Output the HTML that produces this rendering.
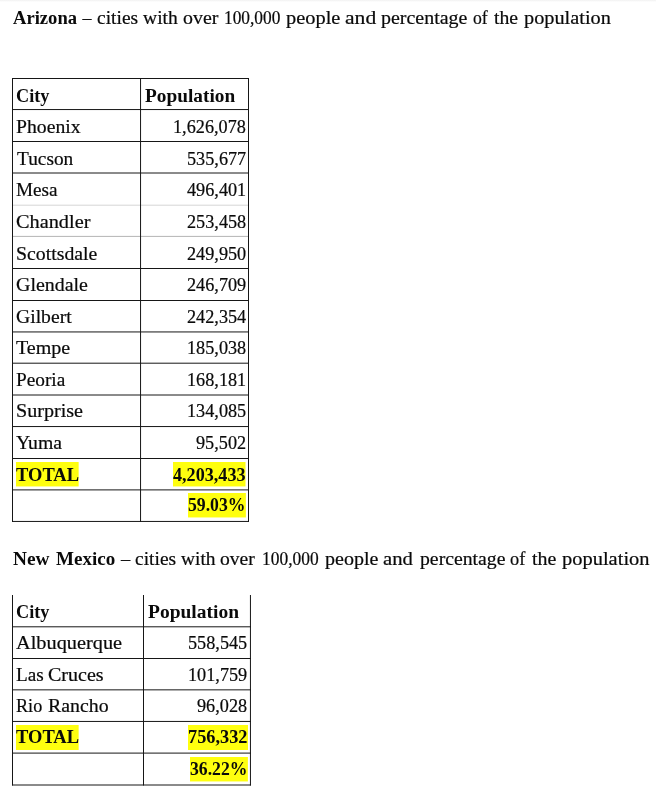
<!DOCTYPE html>
<html lang="en">
<head>
<meta charset="utf-8">
<title>Cities with over 100,000 people</title>
<style>
  html, body { margin: 0; padding: 0; background: #fff; }
  body {
    width: 656px; height: 791px; position: relative; overflow: hidden;
    font-family: "Liberation Serif", serif;
    font-size: 18px; color: #0a0a0a;
  }
  .topshade {
    position: absolute; left: 0; top: 0; width: 656px; height: 2px;
    background: linear-gradient(#f1f1f1, #fff);
  }
  svg.grid { position: absolute; left: 0; top: 0; }
  svg.grid line { stroke-width: 1; }
  h2 {
    position: absolute; margin: 0; left: 0; width: 656px; white-space: nowrap;
    font-size: 18px; font-weight: normal; line-height: 24px; height: 24px;
  }
  h2 .w { position: absolute; top: 0; transform-origin: 0 18px; -webkit-text-stroke: 0.2px #0a0a0a; }
  h2 b { font-weight: bold; }
  #h1 { top: 6px; }
  #h2 { top: 547px; }
  table {
    position: absolute; border-collapse: collapse; border-spacing: 0; table-layout: fixed;
    margin: 0; padding: 0; border: 0;
  }
  td, th {
    border: 0; padding: 0; margin: 0;
    font-size: 18px; line-height: 24px; font-weight: normal;
    vertical-align: top; white-space: nowrap; overflow: visible; text-align: left;
  }
  th { font-weight: bold; }
  tr.a { height: 31px; }
  tr.b { height: 32px; }
  .s { position: absolute; transform-origin: 0 18px; line-height: 24px; height: 24px; -webkit-text-stroke: 0.2px #0a0a0a; }
  mark.s {
    background: linear-gradient(to bottom, #ffff0f 0, #ffff0f 24px, rgba(255,255,15,.45) 24px, rgba(255,255,15,.45) 25px); color: inherit; font-weight: bold;
    height: 25px; line-height: 25px;
  }
  h2 b.w, th .s, mark.s { -webkit-text-stroke: 0; }
  mark.s.f { background: #ffff0f; }
  mark.s.d { line-height: 27px; }
  h2, table { will-change: transform; }
  #t1 { left: 12px; top: 78px; width: 237px; }
  #t2 { left: 12px; top: 594px; width: 239px; }
</style>
</head>
<body>
<div class="topshade"></div>
<svg class="grid" width="656" height="791" viewBox="0 0 656 791" aria-hidden="true">
<line x1="12" x2="249" y1="78.5" y2="78.5" stroke="#161616"/>
<line x1="12" x2="249" y1="109.55" y2="109.55" stroke="#161616"/>
<line x1="12" x2="249" y1="141.5" y2="141.5" stroke="#161616"/>
<line x1="12" x2="249" y1="173.0" y2="173.0" stroke="#161616"/>
<line x1="12" x2="249" y1="205.2" y2="205.2" stroke="#d6d6d6"/>
<line x1="12" x2="249" y1="236.4" y2="236.4" stroke="#b4b4b4"/>
<line x1="12" x2="249" y1="268.5" y2="268.5" stroke="#161616"/>
<line x1="12" x2="249" y1="300.5" y2="300.5" stroke="#161616"/>
<line x1="12" x2="249" y1="331.95" y2="331.95" stroke="#161616"/>
<line x1="12" x2="249" y1="363.2" y2="363.2" stroke="#161616"/>
<line x1="12" x2="249" y1="395.0" y2="395.0" stroke="#161616"/>
<line x1="12" x2="249" y1="426.55" y2="426.55" stroke="#161616"/>
<line x1="12" x2="249" y1="458.5" y2="458.5" stroke="#161616"/>
<line x1="12" x2="249" y1="489.9" y2="489.9" stroke="#161616"/>
<line x1="12" x2="249" y1="521.45" y2="521.45" stroke="#161616"/>
<line x1="12.5" x2="12.5" y1="78" y2="521.95" stroke="#161616"/>
<line x1="140.55" x2="140.55" y1="78" y2="521.95" stroke="#161616"/>
<line x1="248.5" x2="248.5" y1="78" y2="521.95" stroke="#161616"/>
<line x1="12" x2="251" y1="626.8" y2="626.8" stroke="#161616"/>
<line x1="12" x2="251" y1="658.5" y2="658.5" stroke="#161616"/>
<line x1="12" x2="251" y1="689.85" y2="689.85" stroke="#161616"/>
<line x1="12" x2="251" y1="721.45" y2="721.45" stroke="#161616"/>
<line x1="12" x2="251" y1="753.1" y2="753.1" stroke="#161616"/>
<line x1="12" x2="251" y1="785.0" y2="785.0" stroke="#161616"/>
<line x1="12.5" x2="12.5" y1="595" y2="785.5" stroke="#161616"/>
<line x1="143.5" x2="143.5" y1="595" y2="785.5" stroke="#161616"/>
<line x1="250.45" x2="250.45" y1="595" y2="785.5" stroke="#161616"/>
</svg>

<h2 id="h1"><b class="w" style="left:13.24px;transform:scale(1.033,1.03)">Arizona</b> <span class="w" style="left:82.50px;transform:scale(1.000,1.03)">–</span> <span class="w" style="left:96.69px;transform:scale(1.082,1.03)">cities</span> <span class="w" style="left:143.00px;transform:scale(1.087,1.03)">with</span> <span class="w" style="left:182.92px;transform:scale(1.105,1.03)">over</span> <span class="w" style="left:224.30px;transform:scale(0.964,1.03)">100,000</span> <span class="w" style="left:286.47px;transform:scale(1.133,1.03)">people</span> <span class="w" style="left:344.60px;transform:scale(1.200,1.03)">and</span> <span class="w" style="left:380.97px;transform:scale(1.108,1.03)">percentage</span> <span class="w" style="left:472.96px;transform:scale(0.982,1.03)">of</span> <span class="w" style="left:493.83px;transform:scale(1.095,1.03)">the</span> <span class="w" style="left:523.92px;transform:scale(1.128,1.03)">population</span></h2>

<table id="t1">
  <colgroup><col style="width:128px"><col style="width:108px"></colgroup>
  <tr class="a"><th><span class="s" style="left:4.19px;top:6.00px;transform:scale(1.014,1.03)">City</span></th><th><span class="s" style="left:133.33px;top:6.00px;transform:scale(1.073,1.03)">Population</span></th></tr>
  <tr class="b"><td><span class="s" style="left:4.35px;top:37.00px;transform:scale(1.094,1.03)">Phoenix</span></td><td><span class="s" style="left:160.89px;top:37.00px;transform:scale(1.012,1.03)">1,626,078</span></td></tr>
  <tr class="a"><td><span class="s" style="left:4.63px;top:69.00px;transform:scale(1.074,1.03)">Tucson</span></td><td><span class="s" style="left:174.55px;top:69.00px;transform:scale(1.012,1.03)">535,677</span></td></tr>
  <tr class="b l1"><td><span class="s" style="left:4.17px;top:100.00px;transform:scale(1.067,1.03)">Mesa</span></td><td><span class="s" style="left:174.55px;top:100.00px;transform:scale(1.012,1.03)">496,401</span></td></tr>
  <tr class="b l2"><td><span class="s" style="left:4.05px;top:132.00px;transform:scale(1.128,1.03)">Chandler</span></td><td><span class="s" style="left:174.55px;top:132.00px;transform:scale(1.012,1.03)">253,458</span></td></tr>
  <tr class="b"><td><span class="s" style="left:3.52px;top:164.00px;transform:scale(1.100,1.03)">Scottsdale</span></td><td><span class="s" style="left:174.55px;top:164.00px;transform:scale(1.012,1.03)">249,950</span></td></tr>
  <tr class="a"><td><span class="s" style="left:4.07px;top:195.00px;transform:scale(1.107,1.03)">Glendale</span></td><td><span class="s" style="left:174.55px;top:195.00px;transform:scale(1.012,1.03)">246,709</span></td></tr>
  <tr class="b"><td><span class="s" style="left:4.08px;top:227.00px;transform:scale(1.091,1.03)">Gilbert</span></td><td><span class="s" style="left:174.55px;top:227.00px;transform:scale(1.012,1.03)">242,354</span></td></tr>
  <tr class="b"><td><span class="s" style="left:3.92px;top:258.00px;transform:scale(1.114,1.03)">Tempe</span></td><td><span class="s" style="left:174.55px;top:258.00px;transform:scale(1.012,1.03)">185,038</span></td></tr>
  <tr class="b"><td><span class="s" style="left:4.36px;top:290.00px;transform:scale(1.072,1.03)">Peoria</span></td><td><span class="s" style="left:174.55px;top:290.00px;transform:scale(1.012,1.03)">168,181</span></td></tr>
  <tr class="a"><td><span class="s" style="left:4.00px;top:321.00px;transform:scale(1.117,1.03)">Surprise</span></td><td><span class="s" style="left:174.55px;top:321.00px;transform:scale(1.012,1.03)">134,085</span></td></tr>
  <tr class="b"><td><span class="s" style="left:4.33px;top:353.00px;transform:scale(1.096,1.03)">Yuma</span></td><td><span class="s" style="left:183.66px;top:353.00px;transform:scale(1.012,1.03)">95,502</span></td></tr>
  <tr class="a"><td><mark class="s d" style="left:4.00px;top:384.00px;transform:scaleX(1.027)">TOTAL</mark></td><td><mark class="s d" style="left:160.80px;top:384.00px;transform:scaleX(1.007)">4,203,433</mark></td></tr>
  <tr class="b"><td></td><td><mark class="s" style="left:175.90px;top:415.00px;transform:scaleX(0.981)">59.03%</mark></td></tr>
</table>

<h2 id="h2"><b class="w" style="left:13.48px;transform:scale(1.074,1.03)">New</b> <b class="w" style="left:55.99px;transform:scale(1.059,1.03)">Mexico</b> <span class="w" style="left:120.75px;transform:scale(1.028,1.03)">–</span> <span class="w" style="left:134.69px;transform:scale(1.082,1.03)">cities</span> <span class="w" style="left:180.75px;transform:scale(1.079,1.03)">with</span> <span class="w" style="left:220.43px;transform:scale(1.089,1.03)">over</span> <span class="w" style="left:261.55px;transform:scale(0.969,1.03)">100,000</span> <span class="w" style="left:325.47px;transform:scale(1.112,1.03)">people</span> <span class="w" style="left:383.39px;transform:scale(1.150,1.03)">and</span> <span class="w" style="left:419.73px;transform:scale(1.097,1.03)">percentage</span> <span class="w" style="left:510.49px;transform:scale(1.018,1.03)">of</span> <span class="w" style="left:531.72px;transform:scale(1.107,1.03)">the</span> <span class="w" style="left:561.72px;transform:scale(1.137,1.03)">population</span></h2>

<table id="t2">
  <colgroup><col style="width:131px"><col style="width:107px"></colgroup>
  <tr class="b"><th><span class="s" style="left:4.19px;top:6.00px;transform:scale(1.014,1.03)">City</span></th><th><span class="s" style="left:135.53px;top:6.00px;transform:scale(1.083,1.03)">Population</span></th></tr>
  <tr class="b"><td><span class="s" style="left:4.02px;top:37.00px;transform:scale(1.129,1.03)">Albuquerque</span></td><td><span class="s" style="left:176.15px;top:37.00px;transform:scale(1.012,1.03)">558,545</span></td></tr>
  <tr class="b"><td><span class="s" style="left:4.37px;top:69.00px;transform:scale(1.065,1.03)">Las</span> <span class="s" style="left:36.16px;top:69.00px;transform:scale(1.113,1.03)">Cruces</span></td><td><span class="s" style="left:176.15px;top:69.00px;transform:scale(1.012,1.03)">101,759</span></td></tr>
  <tr class="b"><td><span class="s" style="left:4.40px;top:100.00px;transform:scale(1.008,1.03)">Rio</span> <span class="s" style="left:35.55px;top:100.00px;transform:scale(1.103,1.03)">Rancho</span></td><td><span class="s" style="left:185.26px;top:100.00px;transform:scale(1.012,1.03)">96,028</span></td></tr>
  <tr class="b"><td><mark class="s f" style="left:4.00px;top:131.00px;transform:scaleX(1.027)">TOTAL</mark></td><td><mark class="s f" style="left:175.90px;top:131.00px;transform:scaleX(1.017)">756,332</mark></td></tr>
  <tr class="b"><td></td><td><mark class="s" style="left:178.20px;top:163.00px;transform:scaleX(0.981)">36.22%</mark></td></tr>
</table>

</body>
</html>
